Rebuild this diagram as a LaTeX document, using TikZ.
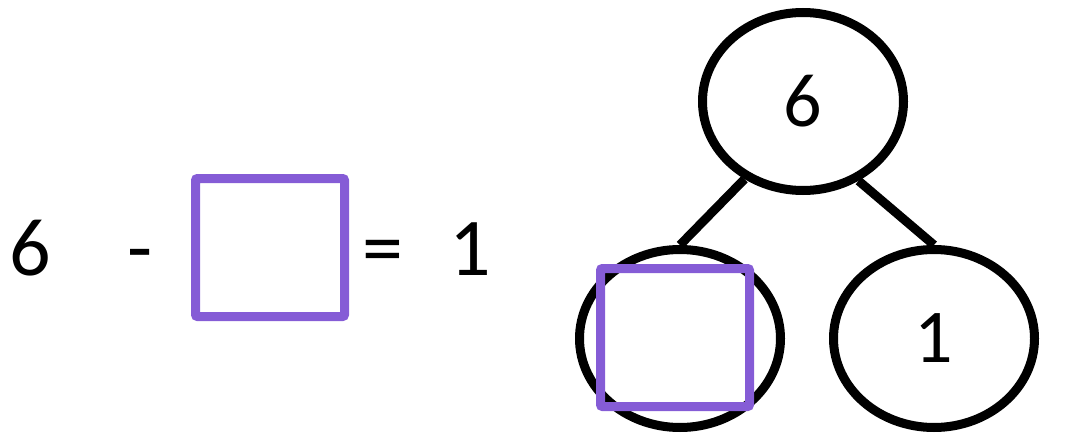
\documentclass[tikz,border=0pt]{standalone}
\usepackage{fontspec}
\setmainfont{Carlito}
\usetikzlibrary{shapes.geometric}
\definecolor{boxpurple}{HTML}{855CD6}
\begin{document}
\begin{tikzpicture}[x=1pt,y=-1pt,
  bubble/.style={draw=black,line width=9pt,ellipse,inner sep=0pt,
    minimum width=201pt,minimum height=178pt,font=\fontsize{76}{80}\selectfont},
  blank/.style={draw=boxpurple,line width=9pt,rounded corners=2pt,fill=none},
  link/.style={draw=black,line width=9pt},
  eqtext/.style={anchor=base,inner sep=0pt,font=\fontsize{82}{86}\selectfont}]
\useasboundingbox (0,0) rectangle (1069,447);
% equation
\node[eqtext] (a) at (30.5,275) {6};
\node[eqtext] (minus) at (140.5,275) {-};
\node[blank,minimum width=149pt,minimum height=138pt,inner sep=0pt,draw] (b) at (270,247.5) {};
\node[eqtext] (eq) at (382.5,275) {=};
\node[eqtext] (c) at (470.5,275) {1};
% number bond
\node[bubble] (top) at (803,101.5) {6};
\node[bubble] (left) at (680,338.5) {};
\node[bubble] (right) at (934,338.5) {1};
\draw[link] (top.233) -- (left.north);
\draw[link] (top.305) -- (right.north);
\node[blank,minimum width=149pt,minimum height=138pt,inner sep=0pt,draw] (lb) at (675,337.5) {};
\end{tikzpicture}
\end{document}
